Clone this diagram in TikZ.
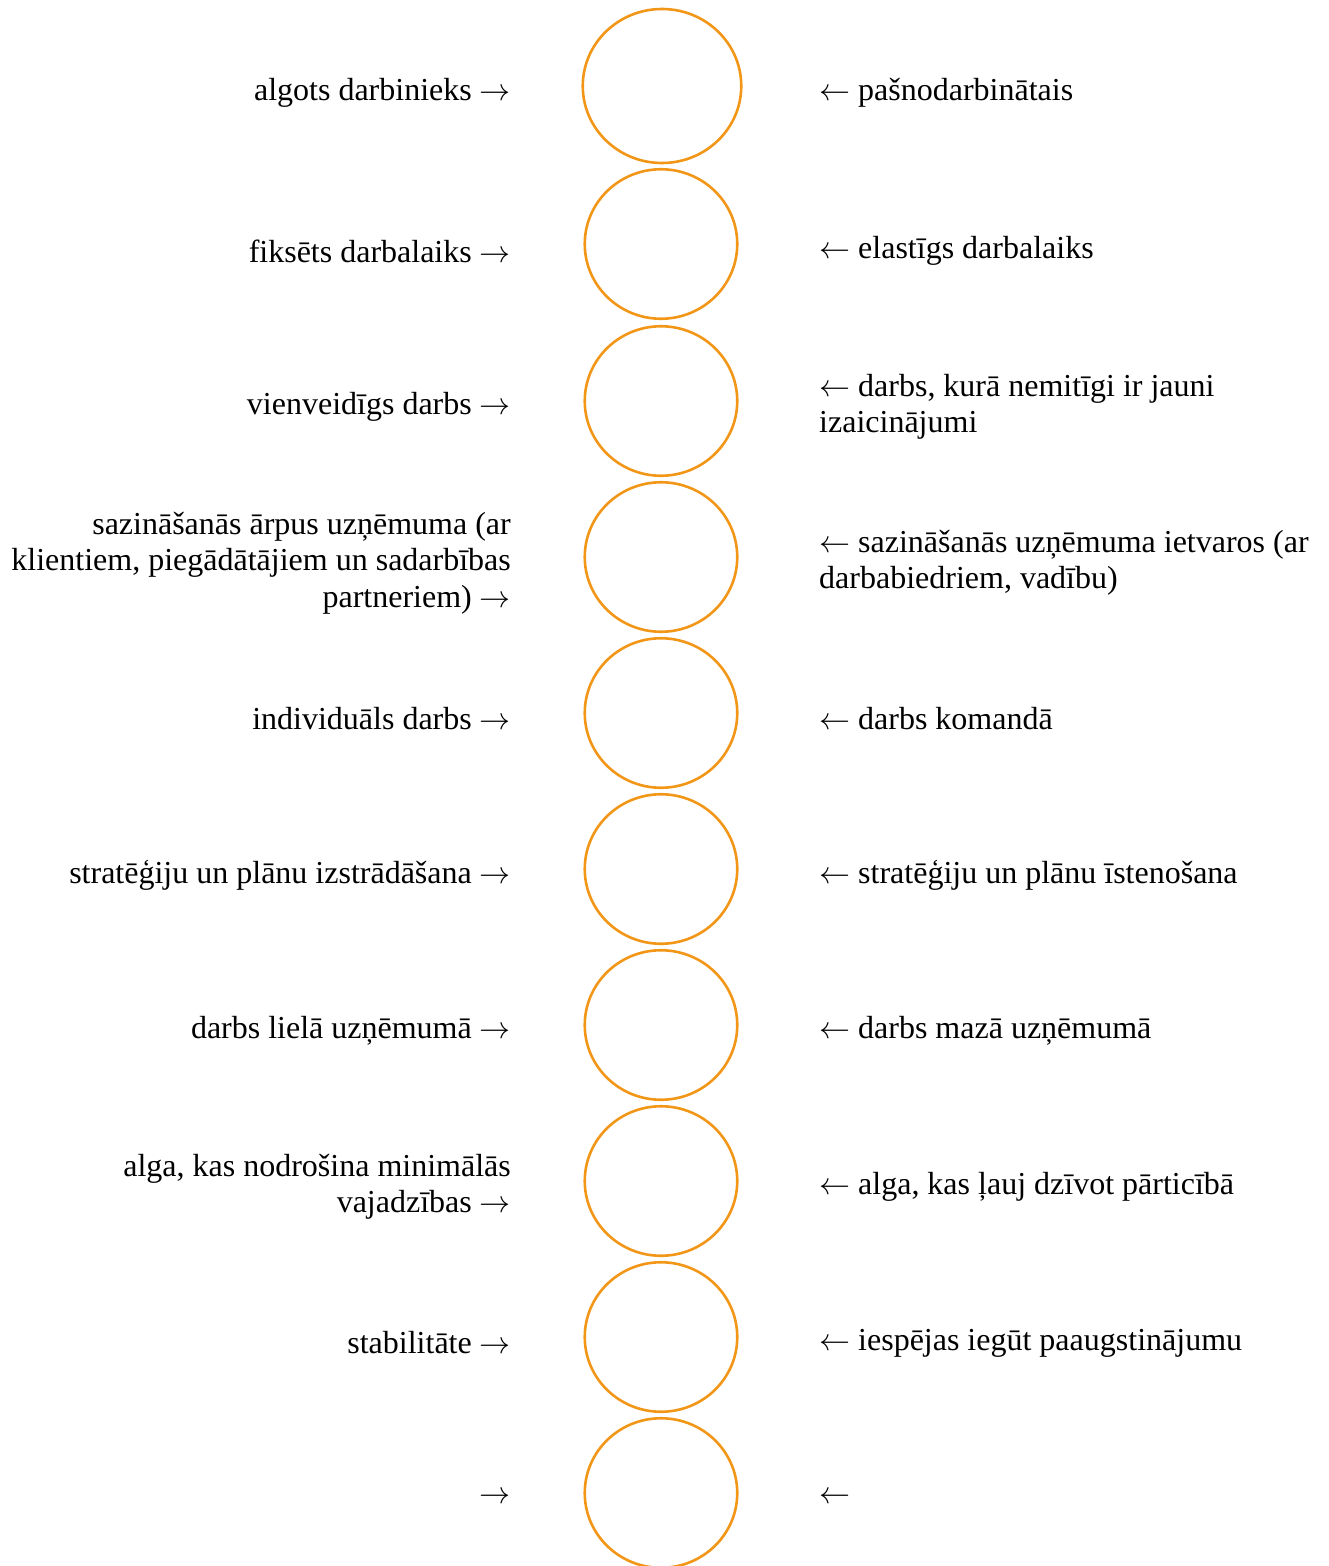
\documentclass[tikz,border=0pt]{standalone}
\usepackage{fontspec}
\setmainfont{Liberation Serif}
\definecolor{ringorange}{RGB}{242,150,24}
\newcommand{\ra}{\resizebox{31pt}{!}{$\rightarrow$}}
\newcommand{\la}{\resizebox{31pt}{!}{$\leftarrow$}}
\tikzset{
  ring/.style={draw=ringorange, line width=2.6pt, ellipse, minimum width=152.5pt, minimum height=149.5pt, inner sep=0pt},
  bigring/.style={ring, minimum width=158.5pt, minimum height=154pt},
  lefttext/.style={anchor=east, align=right, inner sep=0pt, font=\fontsize{32}{36.5}\selectfont},
  righttext/.style={anchor=west, align=left, inner sep=0pt, font=\fontsize{32}{36.5}\selectfont},
}
\usetikzlibrary{shapes.geometric}
\begin{document}
\begin{tikzpicture}[x=1pt,y=1pt]
\useasboundingbox (0,0) rectangle (1328,-1566);
\node[bigring] (c1) at (662,-86) {};
\node[ring] (c2) at (661,-244) {};
\node[ring] (c3) at (661,-401) {};
\node[ring] (c4) at (661,-557) {};
\node[ring] (c5) at (661,-713) {};
\node[ring] (c6) at (661,-869) {};
\node[ring] (c7) at (661,-1025) {};
\node[ring] (c8) at (661,-1181) {};
\node[ring] (c9) at (661,-1337) {};
\node[ring] (c10) at (661,-1493) {};

\node[lefttext] (l1) at (511,-93) {algots darbinieks \ra};
\node[lefttext] (l2) at (511,-251) {fiksēts darbalaiks \ra};
\node[lefttext] (l3) at (511,-407) {vienveidīgs darbs \ra};
\node[lefttext] (l4) at (511,-563) {sazināšanās ārpus uzņēmuma (ar\\klientiem, piegādātājiem un sadarbības\\partneriem) \ra};
\node[lefttext] (l5) at (511,-719) {individuāls darbs \ra};
\node[lefttext] (l6) at (511,-875) {stratēģiju un plānu izstrādāšana \ra};
\node[lefttext] (l7) at (511,-1031) {darbs lielā uzņēmumā \ra};
\node[lefttext] (l8) at (511,-1187) {alga, kas nodrošina minimālās\\vajadzības \ra};
\node[lefttext] (l9) at (511,-1343) {stabilitāte \ra};
\node[lefttext] (l10) at (511,-1498) {\ra};

\node[righttext] (r1) at (819,-93) {\la{} pašnodarbinātais};
\node[righttext] (r2) at (819,-251) {\la{} elastīgs darbalaiks};
\node[righttext] (r3) at (819,-407) {\la{} darbs, kurā nemitīgi ir jauni\\izaicinājumi};
\node[righttext] (r4) at (819,-563) {\la{} sazināšanās uzņēmuma ietvaros (ar\\darbabiedriem, vadību)};
\node[righttext] (r5) at (819,-719) {\la{} darbs komandā};
\node[righttext] (r6) at (819,-875) {\la{} stratēģiju un plānu īstenošana};
\node[righttext] (r7) at (819,-1031) {\la{} darbs mazā uzņēmumā};
\node[righttext] (r8) at (819,-1187) {\la{} alga, kas ļauj dzīvot pārticībā};
\node[righttext] (r9) at (819,-1343) {\la{} iespējas iegūt paaugstinājumu};
\node[righttext] (r10) at (819,-1498) {\la};
\end{tikzpicture}
\end{document}
